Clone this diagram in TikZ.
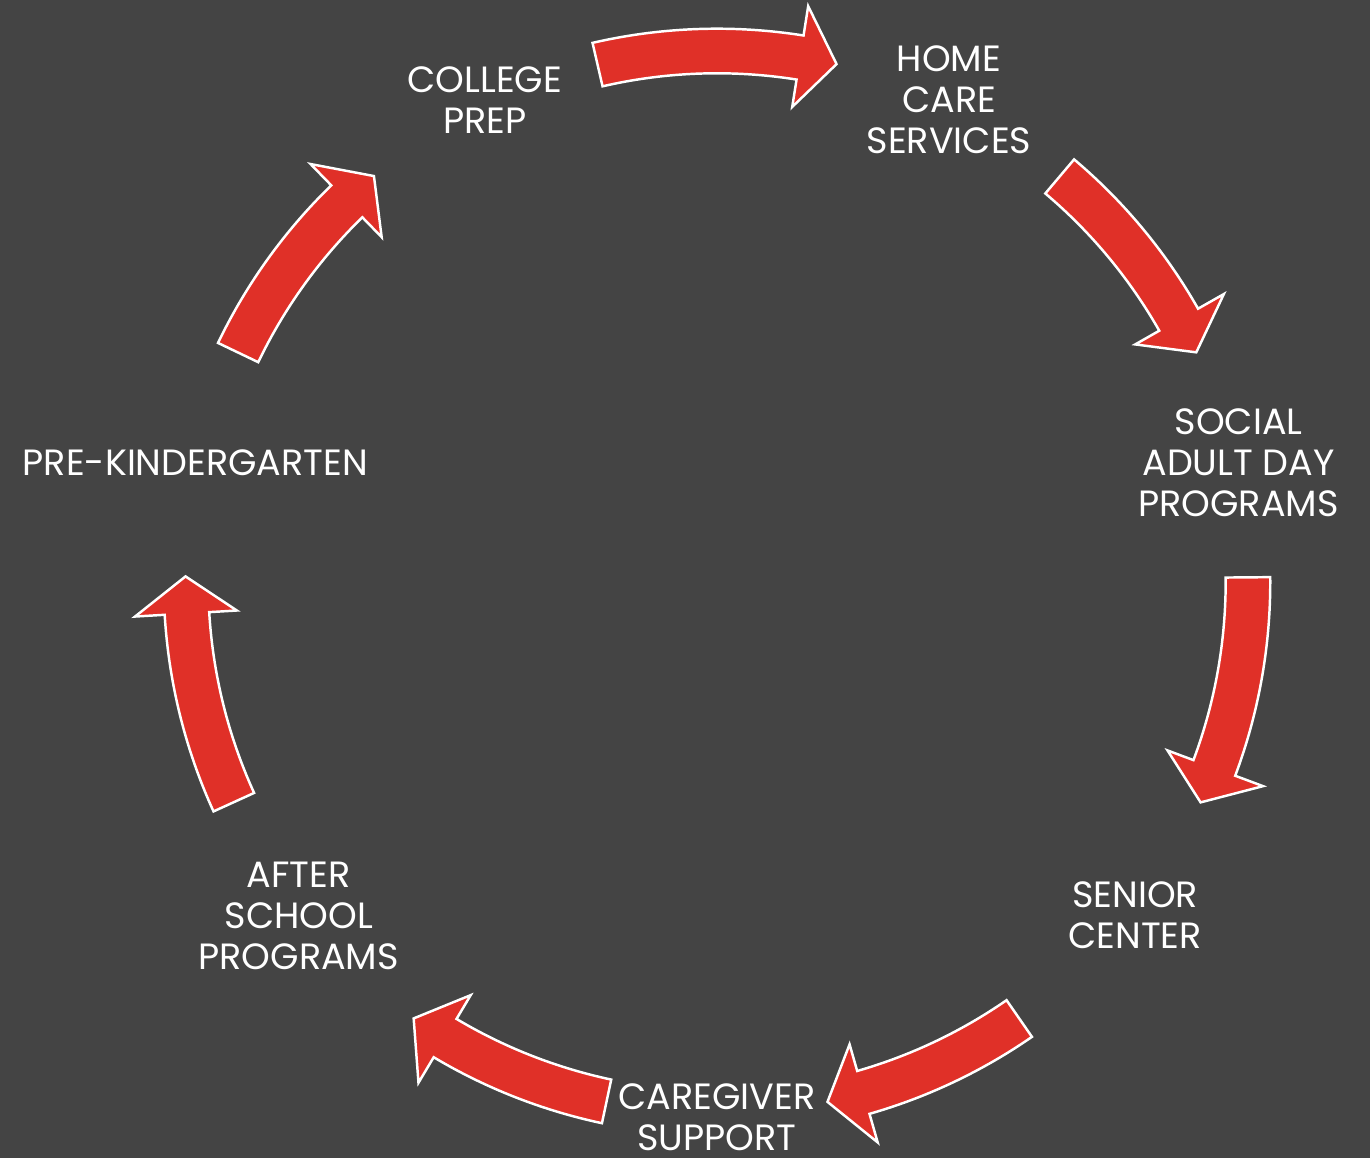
\documentclass[tikz,border=0pt]{standalone}
\usepackage{fontspec}
\setmainfont{Poppins}
\usepackage{tikz}
\definecolor{bggray}{RGB}{68,68,68}
\definecolor{cycred}{RGB}{224,48,40}

\begin{document}
\begin{tikzpicture}[
      lbl/.style={
        text=white, align=center, inner sep=0pt,
        font=\fontsize{10.4}{11.7}\selectfont
      },
      cyc/.style={
        fill=cycred, draw=white, line width=0.7pt, line join=miter
      }
    ]
      \clip (-7.17,-5.76) rectangle (6.53,5.82);
      \fill[bggray] (-7.17,-5.76) rectangle (6.53,5.82);
      \foreach \a/\n/\txt in {115.71/college/{COLLEGE\\PREP},
          64.29/homecare/{HOME\\CARE\\SERVICES},
          12.86/social/{SOCIAL\\ADULT DAY\\PROGRAMS},
          321.43/senior/{SENIOR\\CENTER},
          270/caregiver/{CAREGIVER\\SUPPORT},
          218.57/afterschool/{AFTER\\SCHOOL\\PROGRAMS},
          167.14/prek/{PRE-KINDERGARTEN}} {
        \node[lbl] (\n) at (\a:5.35){\txt};
      }
      \foreach \t/\p in {103/77,49.8/25.6,0.5/-24.5,304.7/282,
          258/235.2,204.5/179.4,154.4/130.2} {
        \pgfmathsetmacro\b{\p+4}
        \draw[cyc] (\t:5.533) arc[start angle=\t, end angle=\b, radius=5.533]
          -- (\b:5.83) -- (\p:5.315) -- (\b:4.81) -- (\b:5.087)
          arc[start angle=\b, end angle=\t, radius=5.087] -- cycle;
      }
    \end{tikzpicture}
\end{document}
